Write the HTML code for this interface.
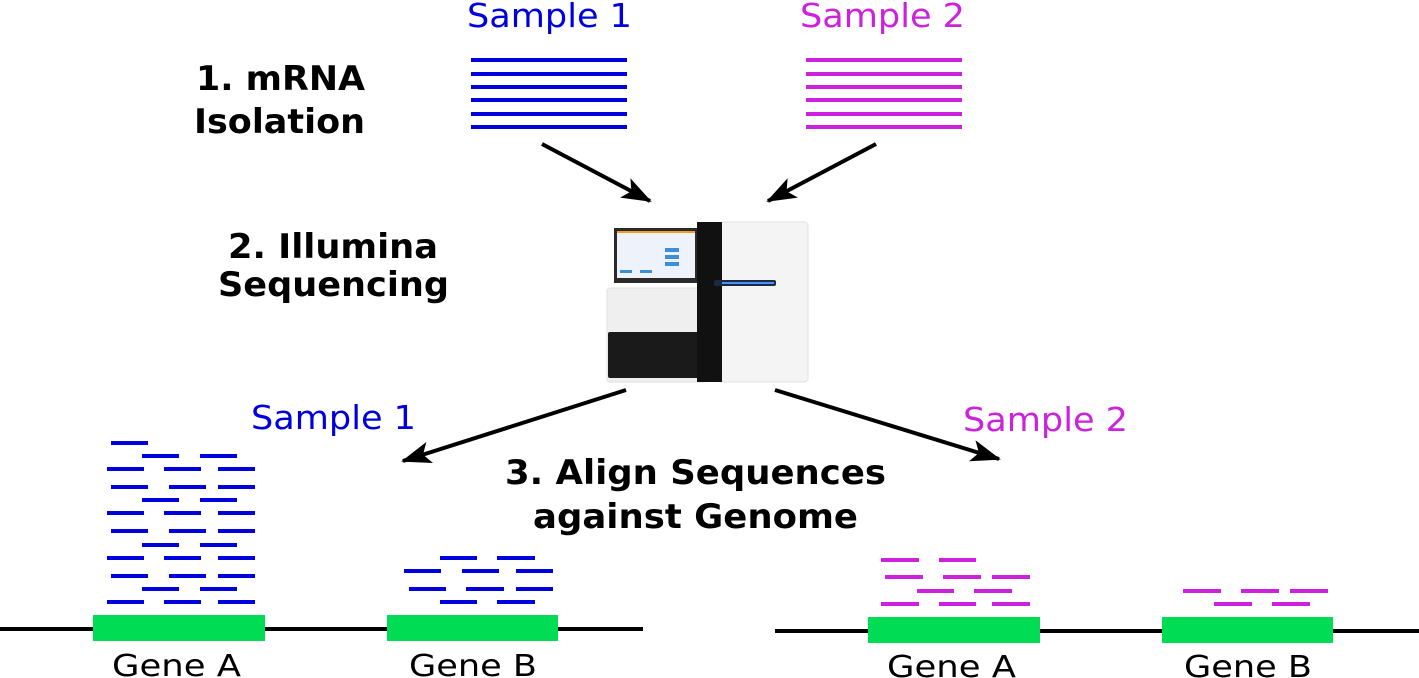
<!DOCTYPE html>
<html><head><meta charset="utf-8"><style>
html,body{margin:0;padding:0;background:#fff;}
svg{display:block;}
text{font-family:"DejaVu Sans","Liberation Sans",sans-serif;}
.b{font-weight:bold;fill:#000;font-size:34px;}
.g{font-size:30px;fill:#000;}
</style></head><body>
<svg width="1419" height="678" viewBox="0 0 1419 678" xmlns="http://www.w3.org/2000/svg">
<defs>
<marker id="ah" markerWidth="30" markerHeight="24" refX="28" refY="12" orient="auto" markerUnits="userSpaceOnUse" viewBox="0 0 30 24">
<path d="M0,1 L30,12 L0,23 L7,12 Z" fill="#000"/>
</marker>
</defs>
<text x="467" y="27" font-size="33" fill="#0000dd" textLength="165" lengthAdjust="spacingAndGlyphs">Sample 1</text>
<text x="800" y="27" font-size="33" fill="#cc22dd" textLength="165" lengthAdjust="spacingAndGlyphs">Sample 2</text>
<text class="b" x="196" y="90" textLength="169" lengthAdjust="spacingAndGlyphs">1. mRNA</text>
<text class="b" x="194" y="133" textLength="171" lengthAdjust="spacingAndGlyphs">Isolation</text>
<text class="b" x="228" y="258" textLength="210" lengthAdjust="spacingAndGlyphs">2. Illumina</text>
<text class="b" x="218" y="296" textLength="231" lengthAdjust="spacingAndGlyphs">Sequencing</text>
<text class="b" x="505" y="484" textLength="381" lengthAdjust="spacingAndGlyphs">3. Align Sequences</text>
<text class="b" x="533" y="528" textLength="325" lengthAdjust="spacingAndGlyphs">against Genome</text>
<text x="251" y="429" font-size="33" fill="#0000dd" textLength="165" lengthAdjust="spacingAndGlyphs">Sample 1</text>
<text x="963" y="431" font-size="33" fill="#cc22dd" textLength="165" lengthAdjust="spacingAndGlyphs">Sample 2</text>
<text class="g" x="112" y="676" textLength="129" lengthAdjust="spacingAndGlyphs">Gene A</text>
<text class="g" x="409" y="676" textLength="128" lengthAdjust="spacingAndGlyphs">Gene B</text>
<text class="g" x="887" y="677" textLength="129" lengthAdjust="spacingAndGlyphs">Gene A</text>
<text class="g" x="1184" y="677" textLength="128" lengthAdjust="spacingAndGlyphs">Gene B</text>
<g stroke="#0000dd" stroke-width="4">
<line x1="471" y1="60" x2="627" y2="60"/><line x1="471" y1="74" x2="627" y2="74"/><line x1="471" y1="87" x2="627" y2="87"/><line x1="471" y1="100" x2="627" y2="100"/><line x1="471" y1="114" x2="627" y2="114"/><line x1="471" y1="127" x2="627" y2="127"/>
</g>
<g stroke="#cc22dd" stroke-width="4">
<line x1="806" y1="60" x2="962" y2="60"/><line x1="806" y1="74" x2="962" y2="74"/><line x1="806" y1="87" x2="962" y2="87"/><line x1="806" y1="100" x2="962" y2="100"/><line x1="806" y1="114" x2="962" y2="114"/><line x1="806" y1="127" x2="962" y2="127"/>
</g>
<g stroke="#000" stroke-width="4" fill="none">
<line x1="542" y1="144" x2="650" y2="201" marker-end="url(#ah)"/>
<line x1="876" y1="144" x2="768" y2="201" marker-end="url(#ah)"/>
<line x1="626" y1="390" x2="403" y2="461" marker-end="url(#ah)"/>
<line x1="775" y1="390" x2="999" y2="459" marker-end="url(#ah)"/>
</g>
<!-- sequencer -->
<g>
<rect x="720" y="222" width="88" height="160" rx="4" fill="#f4f4f4" stroke="#e2e2e2"/>
<rect x="607" y="288" width="100" height="94" rx="3" fill="#efefef" stroke="#e2e2e2"/>
<rect x="608" y="332" width="100" height="46" rx="2" fill="#1a1a1a"/>
<rect x="614" y="228" width="84" height="55" fill="#2a2a2a"/>
<rect x="617" y="231" width="78" height="47" fill="#eef2fa"/>
<rect x="617" y="231" width="78" height="2" fill="#f0a020"/>
<rect x="665" y="248" width="14" height="4" fill="#3a8fd8"/>
<rect x="665" y="255" width="14" height="4" fill="#3a8fd8"/>
<rect x="665" y="262" width="14" height="4" fill="#3a8fd8"/>
<rect x="620" y="270" width="12" height="3" fill="#3a8fd8"/>
<rect x="640" y="270" width="12" height="3" fill="#3a8fd8"/>
<rect x="697" y="222" width="25" height="160" fill="#111"/>
<rect x="714" y="280" width="62" height="6" rx="2" fill="#1a2a40"/>
<rect x="722" y="282" width="52" height="2" fill="#4a90ff"/>
</g>
<line x1="0" y1="629" x2="643" y2="629" stroke="#000" stroke-width="4"/>
<rect x="93" y="615" width="172" height="26" fill="#00dd55"/>
<rect x="387" y="615" width="171" height="26" fill="#00dd55"/>
<g stroke="#0000dd" stroke-width="4">
<line x1="111" y1="443" x2="148" y2="443"/>
<line x1="142" y1="456" x2="179" y2="456"/><line x1="200" y1="456" x2="237" y2="456"/>
<line x1="107" y1="469" x2="144" y2="469"/><line x1="164" y1="469" x2="201" y2="469"/><line x1="218" y1="469" x2="255" y2="469"/>
<line x1="111" y1="487" x2="148" y2="487"/><line x1="169" y1="487" x2="206" y2="487"/><line x1="218" y1="487" x2="255" y2="487"/>
<line x1="142" y1="500" x2="179" y2="500"/><line x1="200" y1="500" x2="237" y2="500"/>
<line x1="107" y1="513" x2="144" y2="513"/><line x1="164" y1="513" x2="201" y2="513"/><line x1="218" y1="513" x2="255" y2="513"/>
<line x1="111" y1="531" x2="148" y2="531"/><line x1="169" y1="531" x2="206" y2="531"/><line x1="218" y1="531" x2="255" y2="531"/>
<line x1="142" y1="545" x2="179" y2="545"/><line x1="200" y1="545" x2="237" y2="545"/>
<line x1="107" y1="558" x2="144" y2="558"/><line x1="164" y1="558" x2="201" y2="558"/><line x1="218" y1="558" x2="255" y2="558"/>
<line x1="111" y1="576" x2="148" y2="576"/><line x1="169" y1="576" x2="206" y2="576"/><line x1="218" y1="576" x2="255" y2="576"/>
<line x1="142" y1="589" x2="179" y2="589"/><line x1="200" y1="589" x2="237" y2="589"/>
<line x1="107" y1="602" x2="144" y2="602"/><line x1="164" y1="602" x2="201" y2="602"/><line x1="218" y1="602" x2="255" y2="602"/>
<line x1="440" y1="558" x2="477" y2="558"/><line x1="497" y1="558" x2="535" y2="558"/>
<line x1="404" y1="571" x2="441" y2="571"/><line x1="462" y1="571" x2="499" y2="571"/><line x1="516" y1="571" x2="553" y2="571"/>
<line x1="409" y1="589" x2="446" y2="589"/><line x1="466" y1="589" x2="504" y2="589"/><line x1="516" y1="589" x2="553" y2="589"/>
<line x1="440" y1="602" x2="477" y2="602"/><line x1="497" y1="602" x2="535" y2="602"/>
</g>
<line x1="775" y1="631" x2="1419" y2="631" stroke="#000" stroke-width="4"/>
<rect x="868" y="617" width="172" height="26" fill="#00dd55"/>
<rect x="1162" y="617" width="171" height="26" fill="#00dd55"/>
<g stroke="#cc22dd" stroke-width="4">
<line x1="881" y1="560" x2="919" y2="560"/><line x1="939" y1="560" x2="976" y2="560"/>
<line x1="885" y1="577" x2="923" y2="577"/><line x1="943" y1="577" x2="981" y2="577"/><line x1="992" y1="577" x2="1030" y2="577"/>
<line x1="917" y1="591" x2="954" y2="591"/><line x1="974" y1="591" x2="1012" y2="591"/>
<line x1="881" y1="604" x2="919" y2="604"/><line x1="939" y1="604" x2="976" y2="604"/><line x1="992" y1="604" x2="1030" y2="604"/>
<line x1="1183" y1="591" x2="1221" y2="591"/><line x1="1241" y1="591" x2="1279" y2="591"/><line x1="1290" y1="591" x2="1328" y2="591"/>
<line x1="1214" y1="604" x2="1252" y2="604"/><line x1="1272" y1="604" x2="1310" y2="604"/>
</g>
</svg>
</body></html>
